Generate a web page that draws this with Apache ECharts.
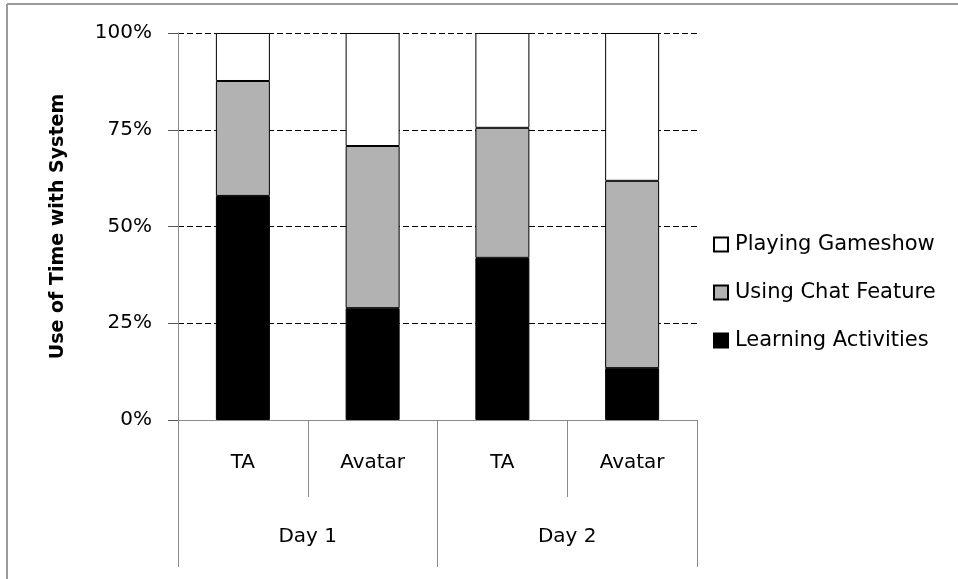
<!DOCTYPE html>
<html><head><meta charset="utf-8">
<script src="https://cdn.jsdelivr.net/npm/echarts@6/dist/echarts.min.js"></script>
<style>html,body{margin:0;padding:0;background:#fff}#c{width:958px;height:579px}</style>
</head><body><div id="c"></div>
<script>
const groups = ['TA', 'Avatar', 'TA', 'Avatar'];
const days = ['Day 1', 'Day 2'];
const learning = [57.9, 28.9, 41.9, 13.4];
const chat = [29.7, 41.9, 33.6, 48.4];
const gameshow = [12.4, 29.2, 24.5, 38.2];
const yTicks = [0, 25, 50, 75, 100];

const FONT = '"DejaVu Sans", sans-serif';
const chart = echarts.init(document.getElementById('c'));
const barBase = {type: 'bar', stack: 'all', barWidth: 54, xAxisIndex: 0, yAxisIndex: 0};
chart.setOption({
  animation: false,
  backgroundColor: '#fff',
  grid: {left: 178, right: 261, top: 33, bottom: 159, containLabel: false},
  legend: {
    orient: 'vertical', left: 708, top: 229, padding: 5, itemWidth: 14, itemHeight: 14, itemGap: 27,
    icon: 'rect',
    data: ['Playing Gameshow', 'Using Chat Feature', 'Learning Activities'],
    textStyle: {fontFamily: FONT, fontSize: 21, color: '#000', lineHeight: 21, padding: [0, 0, 0, 2]}
  },
  xAxis: [
    {
      type: 'category', data: groups, position: 'bottom',
      axisLine: {show: true, lineStyle: {color: '#8a8a8a', width: 1}},
      axisTick: {show: true, interval: 0, length: 77, lineStyle: {color: '#8a8a8a'}},
      axisLabel: {margin: 33, fontFamily: FONT, fontSize: 20, color: '#000'}
    },
    {
      type: 'category', data: days, position: 'bottom',
      axisLine: {show: false},
      axisTick: {show: true, interval: 0, length: 147, lineStyle: {color: '#8a8a8a'}},
      axisLabel: {margin: 107, fontFamily: FONT, fontSize: 20, color: '#000'}
    }
  ],
  yAxis: {
    type: 'value', min: 0, max: 100, interval: 25,
    name: 'Use of Time with System', nameLocation: 'middle', nameGap: 110, nameRotate: 90,
    nameTextStyle: {fontFamily: FONT, fontSize: 19, fontWeight: 'bold', color: '#000'},
    axisLine: {show: true, lineStyle: {color: '#8a8a8a'}},
    axisTick: {show: true, length: 10, lineStyle: {color: '#555'}},
    axisLabel: {margin: 26, fontFamily: FONT, fontSize: 20, color: '#000',
      formatter: v => yTicks.includes(v) ? v + '%' : ''},
    splitLine: {show: true, lineStyle: {color: '#000', type: [6, 3], width: 1}}
  },
  series: [
    Object.assign({}, barBase, {name: 'Learning Activities', data: learning,
      itemStyle: {color: '#000', borderColor: '#000', borderWidth: 1}}),
    Object.assign({}, barBase, {name: 'Using Chat Feature', data: chat,
      itemStyle: {color: '#b2b2b2', borderColor: '#000', borderWidth: 1}}),
    Object.assign({}, barBase, {name: 'Playing Gameshow', data: gameshow,
      itemStyle: {color: '#fff', borderColor: '#000', borderWidth: 1}})
  ],
  graphic: [
    {type: 'line', shape: {x1: 7, y1: 4, x2: 958, y2: 4}, style: {stroke: '#9a9a9a', lineWidth: 2}, silent: true},
    {type: 'line', shape: {x1: 7, y1: 4, x2: 7, y2: 579}, style: {stroke: '#9a9a9a', lineWidth: 2}, silent: true}
  ]
});
</script></body></html>
